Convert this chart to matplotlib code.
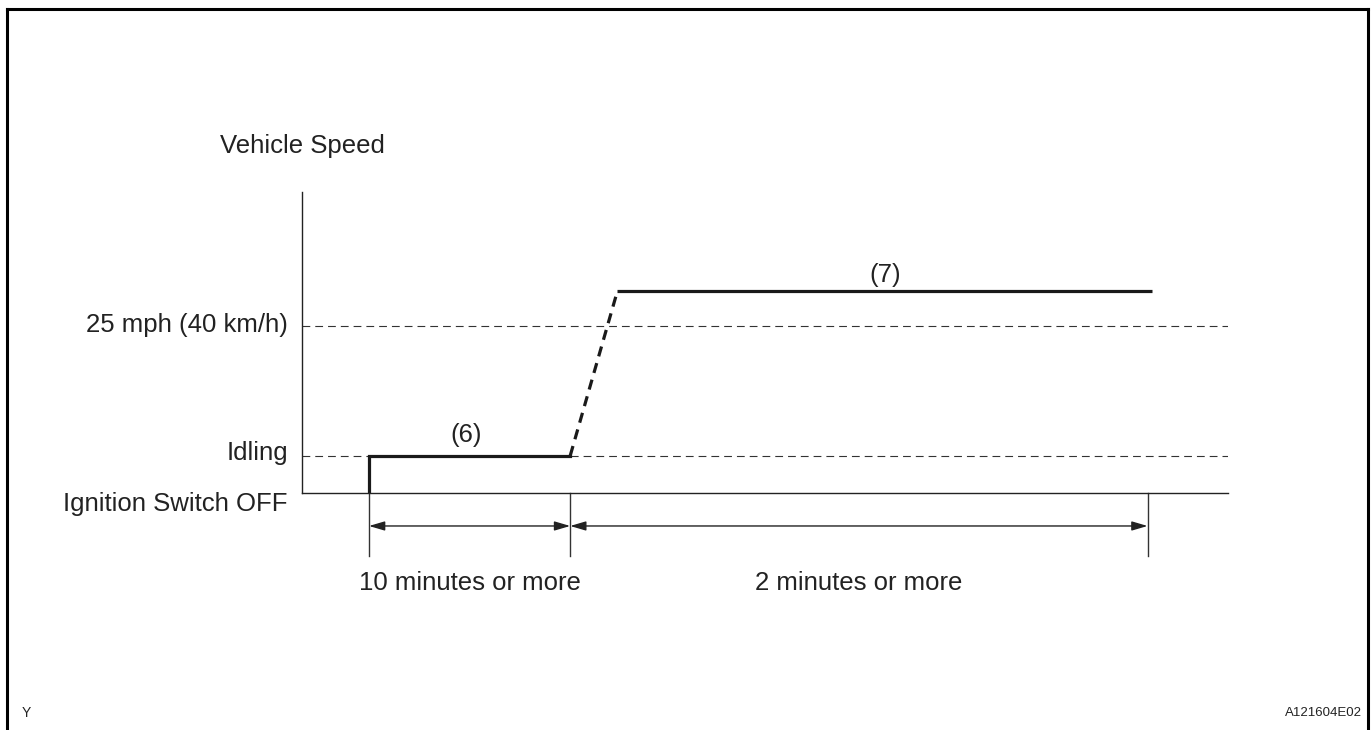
import matplotlib.pyplot as plt
from matplotlib.lines import Line2D

plt.rcParams["font.family"] = ["Liberation Sans", "DejaVu Sans"]

# speed levels (km/h-ish units) and time points (arbitrary minutes-ish units)
level_names  = ["Ignition Switch OFF", "Idling", "25 mph (40 km/h)"]
level_values = [0.0, 8.9, 40.0]

idle_t  = [0.0, 0.0, 10.0]
idle_v  = [0.0, 8.9, 8.9]
ramp_t  = [10.0, 12.35]
ramp_v  = [8.9, 48.4]
cruise_t = [12.35, 38.9]
cruise_v = [48.4, 48.4]

marker_t = [0.0, 10.0, 38.7]
interval_labels = ["10 minutes or more", "2 minutes or more"]
phase_labels = ["(6)", "(7)"]

W, H = 1372, 730
FS = 18.5
TXT = "#222222"

fig = plt.figure(figsize=(W / 100, H / 100), dpi=100)
ax = fig.add_axes([302 / W, 1 - 493 / H, 926 / W, 301 / H])
ax.set_xlim(-3.33, 42.7)
ax.set_ylim(0, 72.1)
for s in ["top", "right"]:
    ax.spines[s].set_visible(False)
for s in ["left", "bottom"]:
    ax.spines[s].set_linewidth(1.0)
    ax.spines[s].set_color("#222222")
ax.set_xticks([])
ax.set_yticks([])

# reference dashed levels
for v in level_values[1:]:
    ax.axhline(v, color="#333333", lw=0.8, ls=(0, (7, 4.5)))

# speed profile
ax.plot(idle_t, idle_v, color="#1a1a1a", lw=2.3, solid_joinstyle="miter")
ax.plot(ramp_t, ramp_v, color="#1a1a1a", lw=2.3, ls=(0, (3.2, 2.2)))
ax.plot(cruise_t, cruise_v, color="#1a1a1a", lw=2.3, solid_capstyle="butt")

# interval markers below axis
for t in marker_t:
    ax.plot([t, t], [0, -15.1], color="#333333", lw=1.0, clip_on=False)
for i in range(2):
    ax.annotate("", xy=(marker_t[i + 1], -7.9), xytext=(marker_t[i], -7.9),
                arrowprops=dict(arrowstyle="<|-|>,head_length=0.95,head_width=0.28",
                                mutation_scale=10, color="#222222", lw=1.0,
                                shrinkA=0, shrinkB=0),
                annotation_clip=False)
    ax.text((marker_t[i] + marker_t[i + 1]) / 2, -23.2, interval_labels[i],
            ha="center", va="baseline", fontsize=FS, color=TXT, clip_on=False)

# level labels (baselines)
label_y = [-4.3, 7.9, 38.6]
for name, y in zip(level_names, label_y):
    ax.text(-4.03, y, name, ha="right", va="baseline", fontsize=FS, color=TXT)
ax.text(-3.33, 81.4, "Vehicle Speed", ha="center", va="baseline", fontsize=FS, color=TXT)

phase_pos = [(4.83, 12.2), (25.67, 50.5)]
for lab, (px, py) in zip(phase_labels, phase_pos):
    ax.text(px, py, lab, ha="center", va="baseline", fontsize=FS, color=TXT)

# page frame and corner codes
for xs, ys in [([7, 1368], [8.5, 8.5]), ([7, 7], [8.5, 730]), ([1368, 1368], [8.5, 730])]:
    fig.add_artist(Line2D([x / W for x in xs], [1 - y / H for y in ys],
                          color="black", lw=2.2, transform=fig.transFigure))
fig.text(22 / W, 1 - 713 / H, "Y", ha="left", va="center", fontsize=10, color=TXT)
fig.text(1362 / W, 1 - 713 / H, "A121604E02", ha="right", va="center", fontsize=9.5, color=TXT)

fig.savefig("out.png", dpi=100)
